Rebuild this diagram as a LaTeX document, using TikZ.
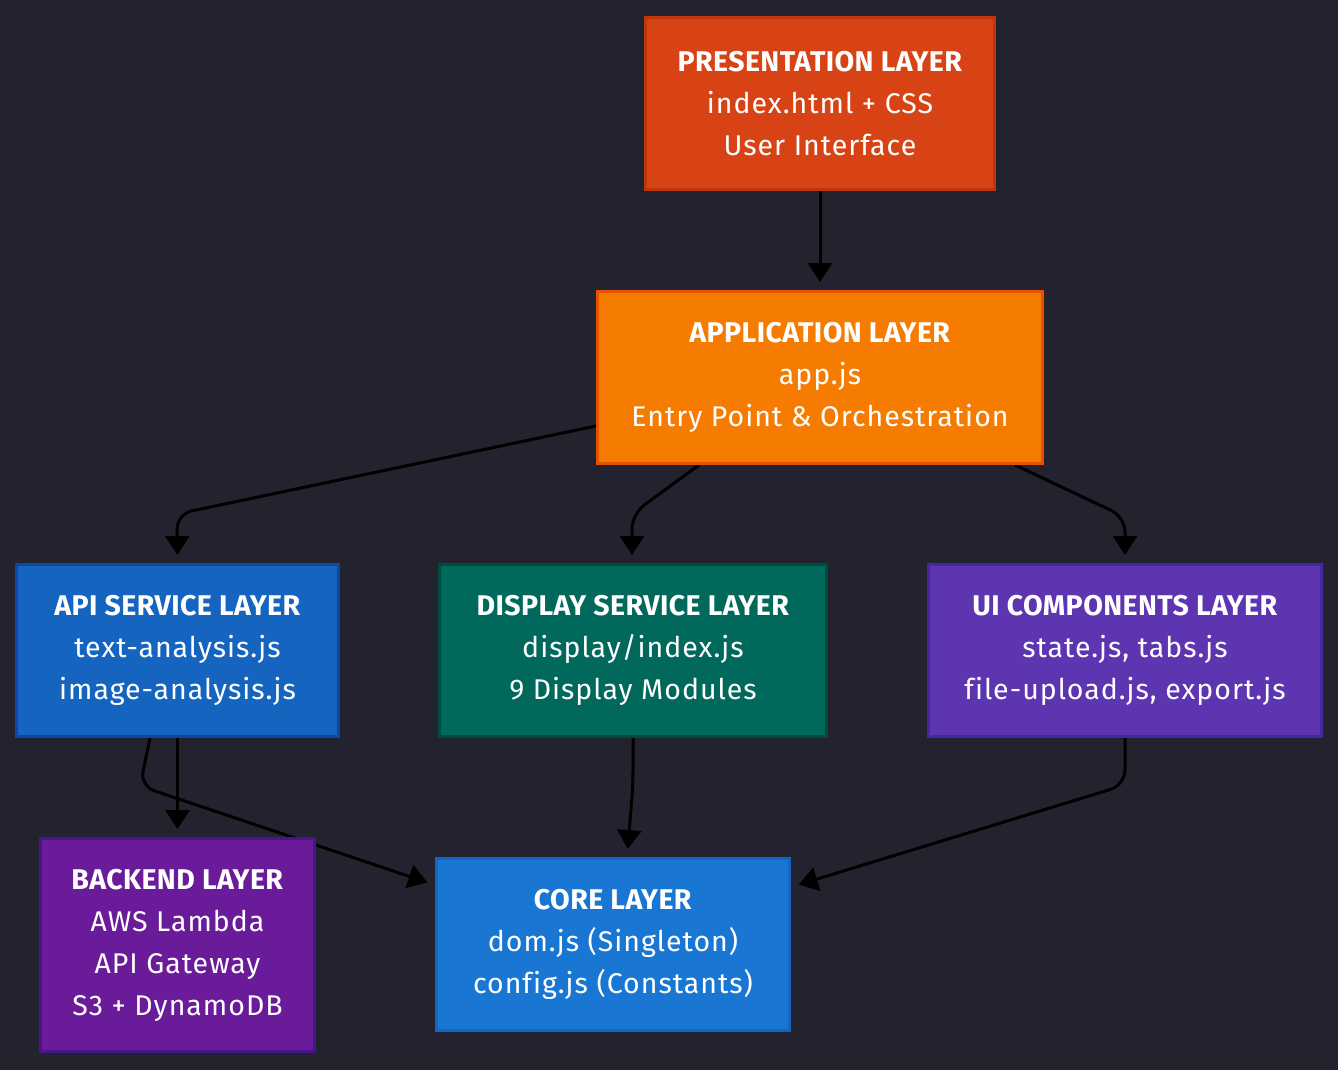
\documentclass[tikz,border=0pt]{standalone}
\usepackage{fontspec}
\setmainfont{Fira Sans}[LetterSpace=3.5, Ligatures=NoCommon, BoldFeatures={LetterSpace=1.5}]
\usetikzlibrary{arrows.meta,calc,backgrounds}
\definecolor{bgc}{RGB}{35,34,47}
\definecolor{presF}{HTML}{D84315}\definecolor{presD}{HTML}{BF360C}
\definecolor{appF}{HTML}{F57C00}\definecolor{appD}{HTML}{E65100}
\definecolor{apiF}{HTML}{1565C0}\definecolor{apiD}{HTML}{0D47A1}
\definecolor{dispF}{HTML}{00695C}\definecolor{dispD}{HTML}{004D40}
\definecolor{uiF}{HTML}{5E35B1}\definecolor{uiD}{HTML}{4527A0}
\definecolor{beF}{HTML}{6A1B9A}\definecolor{beD}{HTML}{4A148C}
\definecolor{coreF}{HTML}{1976D2}\definecolor{coreD}{HTML}{1565C0}
\tikzset{
  layer/.style n args={4}{draw=#2, fill=#1, line width=3pt, inner sep=0pt,
    minimum width=#3, minimum height=#4, text=white, align=center,
    font=\fontsize{28.5}{42}\selectfont},
  conn/.style={draw=black, line width=3pt, rounded corners=15pt,
    -{Triangle[length=19pt,width=24pt]}, shorten >=8pt}
}
\begin{document}
\begin{tikzpicture}[x=1pt,y=-1pt]
\useasboundingbox (0,0) rectangle (1338,1070);

\node[layer={presF}{presD}{349pt}{172pt}] (pres) at (820,103.5)
  {\textbf{PRESENTATION LAYER}\\index.html + CSS\\User Interface};
\node[layer={appF}{appD}{445pt}{172pt}] (app) at (820,377.5)
  {\textbf{APPLICATION LAYER}\\app.js\\Entry Point \& Orchestration};
\node[layer={apiF}{apiD}{322pt}{172pt}] (api) at (177.5,650.5)
  {\textbf{API SERVICE LAYER}\\text-analysis.js\\image-analysis.js};
\node[layer={dispF}{dispD}{387pt}{172pt}] (disp) at (633,650.5)
  {\textbf{DISPLAY SERVICE LAYER}\\display/index.js\\9 Display Modules};
\node[layer={uiF}{uiD}{393pt}{172pt}] (ui) at (1125,650.5)
  {\textbf{UI COMPONENTS LAYER}\\state.js, tabs.js\\file-upload.js, export.js};
\node[layer={beF}{beD}{274pt}{213pt}] (be) at (177.5,945)
  {\textbf{BACKEND LAYER}\\AWS Lambda\\API Gateway\\S3 + DynamoDB};
\node[layer={coreF}{coreD}{353pt}{172pt}] (core) at (613,944.5)
  {\textbf{CORE LAYER}\\dom.js (Singleton)\\config.js (Constants)};

\begin{scope}[on background layer]
\fill[bgc] (0,0) rectangle (1338,1070);
\draw[conn] (pres.south) -- (app.north);
\draw[conn] ($(app.south west)+(0,-39)$) -- (177,514) -- (api.north);
\draw[conn] ($(app.south west)+(103,0)$) -- (632,514) -- (632,563);
\draw[conn] ($(app.south west)+(419,0)$) -- (1125,517) -- (ui.north);
\draw[conn] (api.south) -- (be.north);
\draw[conn] ($(api.south west)+(135,0)$) -- (140,786) -- ($(core.north west)+(0,28)$);
\draw[conn] (disp.south) -- (633,785) -- ($(core.north)+(14,0)$);
\draw[conn] (ui.south) -- (1125,785) -- ($(core.north east)+(0,30)$);
\end{scope}
\end{tikzpicture}
\end{document}
